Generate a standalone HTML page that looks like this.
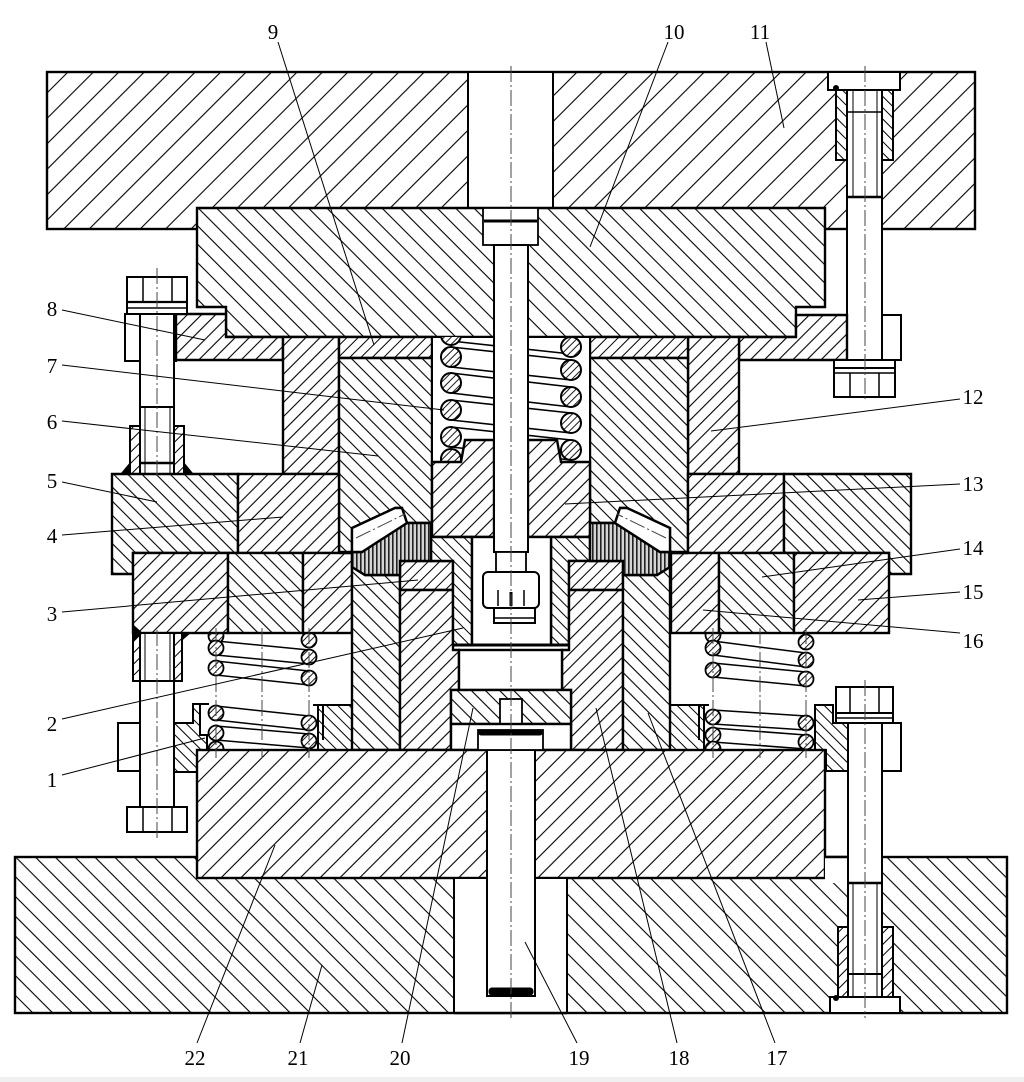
<!DOCTYPE html>
<html><head><meta charset="utf-8"><style>
html,body{margin:0;padding:0;background:#fff;}
svg{display:block;}
text{font-family:"Liberation Serif",serif;font-size:21px;fill:#000;}
</style></head><body>
<svg width="1024" height="1082" viewBox="0 0 1024 1082" xmlns="http://www.w3.org/2000/svg">
<defs>
<pattern id="F18" width="18" height="18" patternUnits="userSpaceOnUse" patternTransform="rotate(45)"><rect width="18" height="18" fill="#fff"/><line x1="9" y1="0" x2="9" y2="18" stroke="#000" stroke-width="1.1"/></pattern>
<pattern id="B13" width="13" height="13" patternUnits="userSpaceOnUse" patternTransform="rotate(-45)"><rect width="13" height="13" fill="#fff"/><line x1="6" y1="0" x2="6" y2="13" stroke="#000" stroke-width="1.1"/></pattern>
<pattern id="F14" width="14" height="14" patternUnits="userSpaceOnUse" patternTransform="rotate(45)"><rect width="14" height="14" fill="#fff"/><line x1="7" y1="0" x2="7" y2="14" stroke="#000" stroke-width="1.1"/></pattern>
<pattern id="B14" width="14" height="14" patternUnits="userSpaceOnUse" patternTransform="rotate(-45)"><rect width="14" height="14" fill="#fff"/><line x1="7" y1="0" x2="7" y2="14" stroke="#000" stroke-width="1.1"/></pattern>
<pattern id="F10" width="10" height="10" patternUnits="userSpaceOnUse" patternTransform="rotate(45)"><rect width="10" height="10" fill="#fff"/><line x1="5" y1="0" x2="5" y2="10" stroke="#000" stroke-width="1.1"/></pattern>
<pattern id="B10" width="10" height="10" patternUnits="userSpaceOnUse" patternTransform="rotate(-45)"><rect width="10" height="10" fill="#fff"/><line x1="5" y1="0" x2="5" y2="10" stroke="#000" stroke-width="1.1"/></pattern>
<pattern id="F8" width="8" height="8" patternUnits="userSpaceOnUse" patternTransform="rotate(45)"><rect width="8" height="8" fill="#fff"/><line x1="4" y1="0" x2="4" y2="8" stroke="#000" stroke-width="1"/></pattern>
<pattern id="B8" width="8" height="8" patternUnits="userSpaceOnUse" patternTransform="rotate(-45)"><rect width="8" height="8" fill="#fff"/><line x1="4" y1="0" x2="4" y2="8" stroke="#000" stroke-width="1"/></pattern>
<pattern id="F5" width="5" height="5" patternUnits="userSpaceOnUse" patternTransform="rotate(45)"><rect width="5" height="5" fill="#fff"/><line x1="2.5" y1="0" x2="2.5" y2="5" stroke="#000" stroke-width="0.9"/></pattern>
<pattern id="R" width="4" height="10" patternUnits="userSpaceOnUse"><rect width="4" height="10" fill="#d4d4d4"/><rect x="0" width="1.6" height="10" fill="#222"/></pattern>
<clipPath id="cUp"><rect x="432" y="337" width="158" height="125"/></clipPath>
<clipPath id="cLo"><rect x="190" y="633" width="660" height="117"/></clipPath>
</defs>
<rect width="1024" height="1082" fill="#fff"/>
<rect x="0" y="1077" width="1024" height="5" fill="#f0f0f0"/>

<g stroke="#000" stroke-width="2.4" stroke-linejoin="miter">
<rect x="15" y="857" width="992" height="156" fill="url(#B14)"/>
<rect x="47" y="72" width="928" height="157" fill="url(#F18)"/>
<rect x="468" y="72" width="85" height="137" fill="#fff" stroke-width="2"/>
<rect x="828" y="72" width="72" height="18" fill="#fff" stroke-width="2"/>
<rect x="836" y="90" width="57" height="70" fill="url(#B8)" stroke-width="2"/>

<polygon points="197,208 825,208 825,307 796,307 796,337 226,337 226,307 197,307" fill="url(#B13)"/>
<rect x="483" y="208" width="55" height="37" fill="#fff" stroke-width="1.8"/>
<line x1="484" y1="221" x2="537" y2="221" stroke-width="3"/>

<rect x="847" y="90" width="35" height="270" fill="#fff" stroke-width="2"/>
<line x1="853" y1="90" x2="853" y2="197" stroke-width="1"/>
<line x1="877" y1="90" x2="877" y2="197" stroke-width="1"/>
<line x1="847" y1="112" x2="882" y2="112" stroke-width="1.5"/>
<line x1="847" y1="197" x2="882" y2="197" stroke-width="2.5"/>

<polygon points="176,314 226,314 226,337 283,337 283,360 176,360" fill="url(#F10)"/>
<polygon points="739,337 796,337 796,315 847,315 847,360 739,360" fill="url(#F10)"/>
<rect x="125" y="314" width="51" height="47" fill="#fff" stroke-width="2"/>
<rect x="882" y="315" width="19" height="45" fill="#fff" stroke-width="2"/>
<rect x="834" y="360" width="61" height="37" fill="#fff" stroke-width="2"/>
<line x1="834" y1="368" x2="895" y2="368" stroke-width="2"/>
<line x1="834" y1="373" x2="895" y2="373" stroke-width="1.5"/>
<line x1="850" y1="373" x2="850" y2="397" stroke-width="1.5"/>
<line x1="879" y1="373" x2="879" y2="397" stroke-width="1.5"/>

<rect x="127" y="277" width="60" height="37" fill="#fff" stroke-width="2"/>
<line x1="127" y1="302" x2="187" y2="302" stroke-width="2.2"/>
<line x1="127" y1="308" x2="187" y2="308" stroke-width="1.5"/>
<line x1="143" y1="277" x2="143" y2="302" stroke-width="1.5"/>
<line x1="172" y1="277" x2="172" y2="302" stroke-width="1.5"/>
<rect x="130" y="426" width="54" height="48" fill="url(#F8)" stroke-width="2"/>
<rect x="140" y="314" width="34" height="160" fill="#fff" stroke-width="2"/>
<line x1="140" y1="407" x2="174" y2="407" stroke-width="2"/>
<line x1="145" y1="407" x2="145" y2="474" stroke-width="1"/>
<line x1="170" y1="407" x2="170" y2="474" stroke-width="1"/>
<line x1="140" y1="463" x2="174" y2="463" stroke-width="2.5"/>
<polygon points="121,474 130,463 130,474" fill="#000" stroke-width="1"/>
<polygon points="184,463 193,474 184,474" fill="#000" stroke-width="1"/>

<rect x="283" y="337" width="56" height="137" fill="url(#F10)"/>
<rect x="688" y="337" width="51" height="137" fill="url(#F10)"/>
<rect x="339" y="337" width="93" height="21" fill="url(#F8)"/>
<rect x="590" y="337" width="98" height="21" fill="url(#F8)"/>
<polygon points="339,358 432,358 432,523 407,523 402,508 395,508 352,528 352,552 339,552" fill="url(#B10)"/>
<polygon points="590,358 688,358 688,552 670,552 670,528 627,508 620,508 615,523 590,523" fill="url(#B10)"/>

<rect x="432" y="337" width="62" height="125" fill="#fff" stroke-width="2"/>
<rect x="528" y="337" width="62" height="125" fill="#fff" stroke-width="2"/>
</g>

<g clip-path="url(#cUp)" stroke="#000">
<g stroke-width="1.6">
<line x1="451" y1="321" x2="571" y2="334"/><line x1="451" y1="341" x2="571" y2="354"/>
<line x1="451" y1="347" x2="571" y2="360"/><line x1="451" y1="367" x2="571" y2="380"/>
<line x1="451" y1="373" x2="571" y2="387"/><line x1="451" y1="393" x2="571" y2="407"/>
<line x1="451" y1="400" x2="571" y2="413"/><line x1="451" y1="420" x2="571" y2="433"/>
<line x1="451" y1="427" x2="571" y2="440"/><line x1="451" y1="447" x2="571" y2="460"/>
</g>
<g fill="url(#F5)" stroke-width="2">
<circle cx="451" cy="335" r="10"/><circle cx="451" cy="357" r="10"/><circle cx="451" cy="383" r="10"/><circle cx="451" cy="410" r="10"/><circle cx="451" cy="437" r="10"/><circle cx="451" cy="459" r="10"/>
<circle cx="571" cy="347" r="10"/><circle cx="571" cy="370" r="10"/><circle cx="571" cy="397" r="10"/><circle cx="571" cy="423" r="10"/><circle cx="571" cy="450" r="10"/>
</g>
</g>

<g stroke="#000" stroke-width="2.4">
<polygon points="432,462 461,462 465,440 494,440 494,537 432,537" fill="url(#F10)"/>
<polygon points="528,440 557,440 561,462 590,462 590,537 528,537" fill="url(#F10)"/>

<polygon points="112,474 238,474 238,553 133,553 133,574 112,574" fill="url(#B10)"/>
<rect x="238" y="474" width="101" height="79" fill="url(#F10)"/>
<rect x="688" y="474" width="96" height="79" fill="url(#F10)"/>
<polygon points="784,474 911,474 911,574 889,574 889,553 784,553" fill="url(#B10)"/>
</g>

<g clip-path="url(#cLo)" stroke="#000">
<g stroke-width="1.5">
<line x1="216" y1="641" x2="309" y2="650"/><line x1="216" y1="655" x2="309" y2="664"/>
<line x1="216" y1="661" x2="309" y2="671"/><line x1="216" y1="675" x2="309" y2="685"/>
<line x1="216" y1="706" x2="309" y2="716"/><line x1="216" y1="720" x2="309" y2="730"/>
<line x1="216" y1="726" x2="309" y2="734"/><line x1="216" y1="740" x2="309" y2="748"/>
<line x1="713" y1="641" x2="806" y2="653"/><line x1="713" y1="655" x2="806" y2="667"/>
<line x1="713" y1="663" x2="806" y2="672"/><line x1="713" y1="677" x2="806" y2="686"/>
<line x1="713" y1="710" x2="806" y2="716"/><line x1="713" y1="724" x2="806" y2="730"/>
<line x1="713" y1="728" x2="806" y2="735"/><line x1="713" y1="742" x2="806" y2="749"/>
</g>
<g fill="url(#F5)" stroke-width="1.8">
<circle cx="216" cy="636" r="7.5"/><circle cx="216" cy="648" r="7.5"/><circle cx="216" cy="668" r="7.5"/><circle cx="216" cy="713" r="7.5"/><circle cx="216" cy="733" r="7.5"/><circle cx="216" cy="749" r="7.5"/>
<circle cx="309" cy="640" r="7.5"/><circle cx="309" cy="657" r="7.5"/><circle cx="309" cy="678" r="7.5"/><circle cx="309" cy="723" r="7.5"/><circle cx="309" cy="741" r="7.5"/>
<circle cx="713" cy="635" r="7.5"/><circle cx="713" cy="648" r="7.5"/><circle cx="713" cy="670" r="7.5"/><circle cx="713" cy="717" r="7.5"/><circle cx="713" cy="735" r="7.5"/><circle cx="713" cy="749" r="7.5"/>
<circle cx="806" cy="642" r="7.5"/><circle cx="806" cy="660" r="7.5"/><circle cx="806" cy="679" r="7.5"/><circle cx="806" cy="723" r="7.5"/><circle cx="806" cy="742" r="7.5"/>
</g>
</g>

<g stroke="#000" stroke-width="2.4">
<rect x="133" y="553" width="95" height="80" fill="url(#F10)"/>
<rect x="228" y="553" width="75" height="80" fill="url(#B10)"/>
<rect x="303" y="553" width="49" height="80" fill="url(#F10)"/>
<rect x="671" y="553" width="48" height="80" fill="url(#F10)"/>
<rect x="719" y="553" width="75" height="80" fill="url(#B10)"/>
<rect x="794" y="553" width="95" height="80" fill="url(#F10)"/>
<line x1="339" y1="553" x2="352" y2="553"/>
<line x1="670" y1="553" x2="688" y2="553"/>

<polygon points="318,705 352,705 352,750 318,750" fill="url(#B8)" stroke-width="2"/>
<polyline points="313,705 323,705 323,740" fill="none" stroke-width="2"/>
<polygon points="670,705 704,705 704,750 670,750" fill="url(#B8)" stroke-width="2"/>
<polyline points="709,705 699,705 699,740" fill="none" stroke-width="2"/>
<polygon points="173,723 193,723 193,704 200,704 200,735 207,735 207,752 197,752 197,772 173,772" fill="url(#B8)" stroke-width="2"/>
<line x1="193" y1="704" x2="209" y2="704" stroke-width="2"/>
<polygon points="815,705 833,705 833,723 848,723 848,771 826,771 826,750 815,750" fill="url(#B8)" stroke-width="2"/>
<rect x="118" y="723" width="22" height="48" fill="#fff" stroke-width="2"/>
<rect x="882" y="723" width="19" height="48" fill="#fff" stroke-width="2"/>

<rect x="133" y="633" width="49" height="48" fill="url(#F8)" stroke-width="2"/>
<rect x="140" y="633" width="34" height="174" fill="#fff" stroke-width="2"/>
<line x1="145" y1="633" x2="145" y2="681" stroke-width="1"/>
<line x1="170" y1="633" x2="170" y2="681" stroke-width="1"/>
<line x1="140" y1="681" x2="174" y2="681" stroke-width="2"/>
<rect x="127" y="807" width="60" height="25" fill="#fff" stroke-width="2"/>
<line x1="143" y1="807" x2="143" y2="832" stroke-width="1.5"/>
<line x1="172" y1="807" x2="172" y2="832" stroke-width="1.5"/>
<polygon points="133,625 142,633 133,641" fill="#000" stroke-width="1"/>
<polygon points="182,633 190,633 182,640" fill="#000" stroke-width="1"/>

<polygon points="352,567 365,575 400,575 400,750 352,750" fill="url(#B10)"/>
<rect x="400" y="561" width="53" height="29" fill="url(#F8)"/>
<polygon points="400,590 453,590 453,650 459,650 459,690 451,690 451,750 400,750" fill="url(#F10)"/>
<polygon points="431,537 472,537 472,645 453,645 453,561 431,561" fill="url(#B8)"/>
<polygon points="551,537 590,537 590,561 569,561 569,645 551,645" fill="url(#B8)"/>
<rect x="472" y="537" width="79" height="108" fill="#fff"/>
<rect x="569" y="561" width="54" height="29" fill="url(#F8)"/>
<polygon points="569,590 623,590 623,750 571,750 571,690 562,690 562,650 569,650" fill="url(#F10)"/>
<polygon points="623,575 657,575 670,567 670,750 623,750" fill="url(#B10)"/>
<rect x="459" y="650" width="103" height="40" fill="#fff"/>
<line x1="453" y1="645" x2="569" y2="645" stroke-width="3"/>
<line x1="453" y1="650" x2="569" y2="650" stroke-width="2"/>
<rect x="451" y="690" width="120" height="34" fill="url(#B10)"/>
<rect x="500" y="699" width="22" height="25" fill="#fff" stroke-width="1.8"/>
<rect x="451" y="724" width="120" height="26" fill="#fff"/>

<polygon points="352,552 362,552 407,523 431,523 431,561 400,561 400,575 365,575 352,567" fill="url(#R)"/>
<polygon points="352,528 395,508 402,508 407,523 362,552 352,552" fill="#fff"/>
<polygon points="670,552 660,552 615,523 590,523 590,561 623,561 623,575 657,575 670,567" fill="url(#R)"/>
<polygon points="670,528 627,508 620,508 615,523 660,552 670,552" fill="#fff"/>

<rect x="494" y="245" width="34" height="307" fill="#fff" stroke-width="2"/>
<rect x="496" y="552" width="30" height="20" fill="#fff" stroke-width="1.8"/>
<rect x="483" y="572" width="56" height="36" rx="5" fill="#fff" stroke-width="2"/>
<line x1="498" y1="590" x2="498" y2="606" stroke-width="1.5"/>
<line x1="511" y1="592" x2="511" y2="606" stroke-width="3"/>
<line x1="524" y1="590" x2="524" y2="606" stroke-width="1.5"/>
<rect x="494" y="608" width="41" height="15" fill="#fff" stroke-width="2"/>
<line x1="494" y1="618" x2="535" y2="618" stroke-width="1.5"/>

<rect x="197" y="750" width="628" height="128" fill="url(#F14)"/>
<rect x="454" y="878" width="113" height="135" fill="#fff" stroke-width="2"/>
<line x1="454" y1="1013" x2="567" y2="1013" stroke-width="2.4"/>
<rect x="487" y="750" width="48" height="246" fill="#fff" stroke-width="2"/>
<rect x="489" y="988" width="44" height="7" rx="3" fill="#000" stroke-width="1"/>
<rect x="478" y="730" width="65" height="20" fill="#fff" stroke-width="1.8"/>
<rect x="479" y="730" width="63" height="5" rx="2" fill="#000" stroke-width="1"/>

<rect x="825" y="857" width="23" height="26" fill="#fff" stroke-width="0"/>
<line x1="825" y1="857" x2="848" y2="857" stroke-width="2.4"/>
<rect x="838" y="927" width="55" height="70" fill="url(#F8)" stroke-width="2"/>
<rect x="848" y="723" width="34" height="274" fill="#fff" stroke-width="2"/>
<line x1="848" y1="883" x2="882" y2="883" stroke-width="2.5"/>
<line x1="848" y1="974" x2="882" y2="974" stroke-width="2"/>
<line x1="853" y1="883" x2="853" y2="997" stroke-width="1"/>
<line x1="877" y1="883" x2="877" y2="997" stroke-width="1"/>
<rect x="830" y="997" width="70" height="16" fill="#fff" stroke-width="2"/>
<circle cx="836" cy="998" r="3" fill="#000" stroke-width="0"/>
<circle cx="836" cy="88" r="3" fill="#000" stroke-width="0"/>
<rect x="836" y="687" width="57" height="36" fill="#fff" stroke-width="2"/>
<line x1="836" y1="713" x2="893" y2="713" stroke-width="2"/>
<line x1="836" y1="718" x2="893" y2="718" stroke-width="1.5"/>
<line x1="850" y1="687" x2="850" y2="713" stroke-width="1.5"/>
<line x1="879" y1="687" x2="879" y2="713" stroke-width="1.5"/>
</g>

<g stroke="#444" stroke-width="1" stroke-dasharray="16,3,2,3" fill="none">
<line x1="511" y1="66" x2="511" y2="1020"/>
<line x1="157" y1="268" x2="157" y2="476"/>
<line x1="157" y1="630" x2="157" y2="840"/>
<line x1="865" y1="66" x2="865" y2="402"/>
<line x1="865" y1="680" x2="865" y2="1018"/>
<line x1="216" y1="628" x2="216" y2="758"/>
<line x1="262" y1="628" x2="262" y2="758"/>
<line x1="309" y1="628" x2="309" y2="758"/>
<line x1="713" y1="628" x2="713" y2="758"/>
<line x1="760" y1="628" x2="760" y2="758"/>
<line x1="806" y1="628" x2="806" y2="758"/>
<line x1="356" y1="538" x2="405" y2="514"/>
<line x1="666" y1="538" x2="617" y2="514"/>
</g>

<g stroke="#000" stroke-width="1" fill="none">
<line x1="62" y1="775" x2="205" y2="738"/>
<line x1="62" y1="719" x2="463" y2="628"/>
<line x1="62" y1="612" x2="418" y2="580"/>
<line x1="62" y1="535" x2="283" y2="517"/>
<line x1="62" y1="482" x2="157" y2="502"/>
<line x1="62" y1="421" x2="378" y2="456"/>
<line x1="62" y1="365" x2="444" y2="410"/>
<line x1="62" y1="310" x2="205" y2="340"/>
<line x1="278" y1="42" x2="374" y2="345"/>
<line x1="668" y1="42" x2="590" y2="247"/>
<line x1="766" y1="42" x2="784" y2="128"/>
<line x1="960" y1="399" x2="711" y2="431"/>
<line x1="960" y1="484" x2="565" y2="504"/>
<line x1="960" y1="549" x2="762" y2="577"/>
<line x1="960" y1="592" x2="858" y2="600"/>
<line x1="960" y1="633" x2="703" y2="610"/>
<line x1="775" y1="1043" x2="648" y2="713"/>
<line x1="677" y1="1043" x2="596" y2="708"/>
<line x1="577" y1="1043" x2="525" y2="942"/>
<line x1="402" y1="1043" x2="473" y2="708"/>
<line x1="300" y1="1043" x2="322" y2="965"/>
<line x1="197" y1="1043" x2="275" y2="845"/>
</g>

<g text-anchor="middle">
<text x="52" y="787">1</text>
<text x="52" y="731">2</text>
<text x="52" y="621">3</text>
<text x="52" y="543">4</text>
<text x="52" y="488">5</text>
<text x="52" y="429">6</text>
<text x="52" y="373">7</text>
<text x="52" y="316">8</text>
<text x="273" y="39">9</text>
<text x="674" y="39">10</text>
<text x="760" y="39">11</text>
<text x="973" y="404">12</text>
<text x="973" y="491">13</text>
<text x="973" y="555">14</text>
<text x="973" y="599">15</text>
<text x="973" y="648">16</text>
<text x="777" y="1065">17</text>
<text x="679" y="1065">18</text>
<text x="579" y="1065">19</text>
<text x="400" y="1065">20</text>
<text x="298" y="1065">21</text>
<text x="195" y="1065">22</text>
</g>
</svg>
</body></html>
